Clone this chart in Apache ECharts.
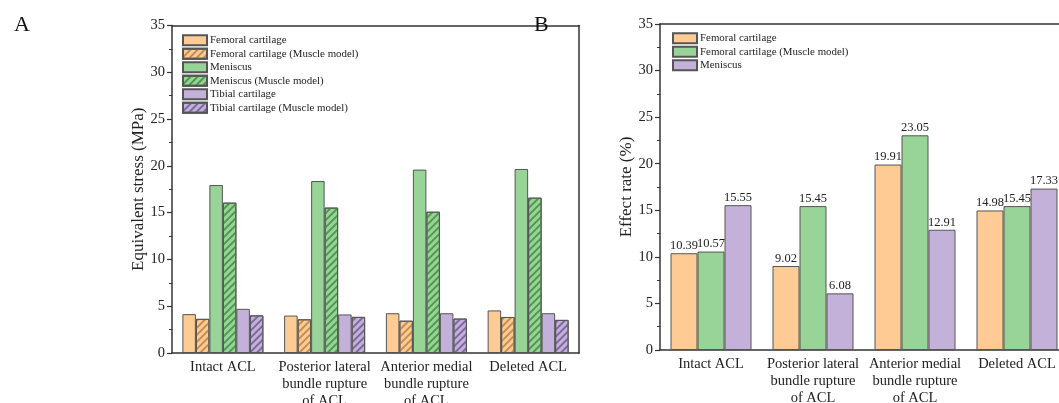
<!DOCTYPE html>
<html><head><meta charset="utf-8">
<script src="https://cdn.jsdelivr.net/npm/echarts@6/dist/echarts.min.js"></script>
<style>html,body{margin:0;padding:0;background:#fff}#c{width:1059px;height:403px}</style>
</head><body><div id="c"></div>
<script>
const categories = ['Intact ACL', 'Posterior lateral\nbundle rupture\nof ACL', 'Anterior medial\nbundle rupture\nof ACL', 'Deleted ACL'];
const yTicksA = [0, 5, 10, 15, 20, 25, 30, 35];
// Chart A: equivalent stress (MPa)
const femoralA = [4.15, 4.0, 4.25, 4.55];
const femoralMuscleA = [3.65, 3.6, 3.45, 3.85];
const meniscusA = [17.95, 18.38, 19.6, 19.67];
const meniscusMuscleA = [16.07, 15.54, 15.1, 16.6];
const tibialA = [4.72, 4.12, 4.25, 4.25];
const tibialMuscleA = [4.02, 3.86, 3.68, 3.54];
// Chart B: effect rate (%)
const femoralB = [10.39, 9.02, 19.91, 14.98];
const femoralMuscleB = [10.57, 15.45, 23.05, 15.45];
const meniscusB = [15.55, 6.08, 12.91, 17.33];
const seriesNamesA = ['Femoral cartilage', 'Femoral cartilage (Muscle model)', 'Meniscus', 'Meniscus (Muscle model)', 'Tibial cartilage', 'Tibial cartilage (Muscle model)'];
const seriesNamesB = ['Femoral cartilage', 'Femoral cartilage (Muscle model) ', 'Meniscus '];

const FONT = '"Liberation Serif", "DejaVu Serif", serif';
const ORANGE = '#FDCB93', GREEN = '#98D497', PURPLE = '#C3B1D9';
const hatch = c => ({symbol: 'rect', symbolSize: 1, dashArrayX: [1, 0], dashArrayY: [1.4, 2.6], rotation: -Math.PI / 4, color: c});
const border = {borderColor: '#555', borderWidth: 1};

function yAxis(gi, name) {
  return {
    type: 'value', gridIndex: gi, min: 0, max: 35, interval: 5,
    name: name, nameLocation: 'middle', nameGap: 25,
    nameTextStyle: {fontFamily: FONT, fontSize: 17, color: '#222'},
    axisLine: {show: true, onZero: false, lineStyle: {color: '#333', width: 1.5}},
    axisTick: {show: true, inside: false, length: 5, lineStyle: {color: '#333', width: 1.2}},
    minorTick: {show: true, splitNumber: 2, length: 3, lineStyle: {color: '#333', width: 1}},
    axisLabel: {fontFamily: FONT, fontSize: 14.5, color: '#222', margin: 7,
      formatter: v => yTicksA.includes(v) ? String(v) : ''},
    splitLine: {show: false}
  };
}
function xAxis(gi) {
  return {
    type: 'category', gridIndex: gi, data: categories,
    axisLine: {show: true, onZero: false, lineStyle: {color: '#333', width: 1.5}},
    axisTick: {show: false},
    axisLabel: {fontFamily: FONT, fontSize: 14.5, color: '#222', lineHeight: 16.8, margin: 6, interval: 0},
    splitLine: {show: false}
  };
}
function topAxis(gi) {
  return {
    type: 'category', gridIndex: gi, position: 'top', data: categories,
    axisLine: {show: true, onZero: false, lineStyle: {color: '#333', width: 1.5}},
    axisTick: {show: false}, axisLabel: {show: false}
  };
}
function rightAxis(gi) {
  return {
    type: 'value', gridIndex: gi, position: 'right', min: 0, max: 35,
    axisLine: {show: true, onZero: false, lineStyle: {color: '#333', width: 1.5}},
    axisTick: {show: false}, axisLabel: {show: false}, splitLine: {show: false}
  };
}
function barA(name, data, color, decalColor) {
  const s = {name: name, type: 'bar', xAxisIndex: 0, yAxisIndex: 0, data: data,
    barWidth: 13.5, barGap: '0%', itemStyle: Object.assign({color: color}, border)};
  if (decalColor) s.itemStyle.decal = hatch(decalColor);
  return s;
}
function barB(name, data, color) {
  return {name: name, type: 'bar', xAxisIndex: 2, yAxisIndex: 2, data: data,
    barWidth: 27, barGap: '0%', itemStyle: Object.assign({color: color}, border),
    label: {show: true, position: 'top', distance: 1, fontFamily: FONT, fontSize: 12.5, color: '#222',
      formatter: p => p.value.toFixed(2)}};
}
const legendCommon = {orient: 'vertical', icon: 'rect', itemWidth: 24, itemHeight: 10, itemGap: 0,
  textStyle: {fontFamily: FONT, fontSize: 10.9, color: '#222', lineHeight: 13.5, padding: [0, 0, 0, -2]},
  selectedMode: false, padding: 0};

const chart = echarts.init(document.getElementById('c'), null, {renderer: 'canvas'});
chart.setOption({
  backgroundColor: '#fff',
  animation: false,
  grid: [
    {left: 172, top: 25.5, width: 407, height: 327.5, outerBoundsMode: 'none', containLabel: false},
    {left: 660, top: 24, width: 408, height: 326, outerBoundsMode: 'none', containLabel: false}
  ],
  title: [
    {text: 'A', left: 9, top: 9, textStyle: {fontFamily: FONT, fontSize: 22, fontWeight: 'normal', color: '#111'}},
    {text: 'B', left: 529, top: 9, textStyle: {fontFamily: FONT, fontSize: 22, fontWeight: 'normal', color: '#111'}}
  ],
  legend: [
    Object.assign({data: seriesNamesA, left: 182, top: 33.5}, legendCommon),
    Object.assign({data: seriesNamesB, left: 672, top: 31.5}, legendCommon)
  ],
  xAxis: [xAxis(0), topAxis(0), xAxis(1), topAxis(1)],
  yAxis: [yAxis(0, 'Equivalent stress (MPa)'), rightAxis(0), yAxis(1, 'Effect rate (%)'), rightAxis(1)],
  series: [
    barA(seriesNamesA[0], femoralA, ORANGE),
    barA(seriesNamesA[1], femoralMuscleA, ORANGE, '#C78E52'),
    barA(seriesNamesA[2], meniscusA, GREEN),
    barA(seriesNamesA[3], meniscusMuscleA, GREEN, '#4F9A50'),
    barA(seriesNamesA[4], tibialA, PURPLE),
    barA(seriesNamesA[5], tibialMuscleA, PURPLE, '#7E6AA0'),
    barB(seriesNamesB[0], femoralB, ORANGE),
    barB(seriesNamesB[1], femoralMuscleB, GREEN),
    barB(seriesNamesB[2], meniscusB, PURPLE)
  ]
});
</script></body></html>
